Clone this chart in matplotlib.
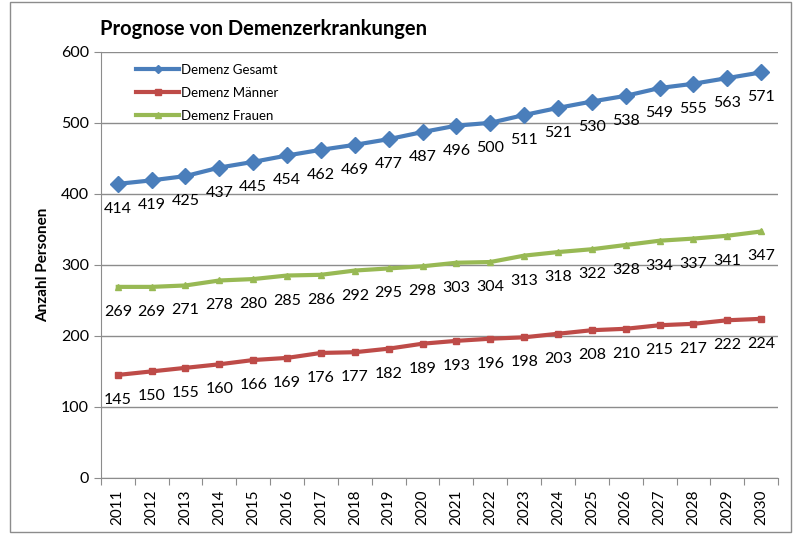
import numpy as np
import matplotlib.pyplot as plt
from matplotlib.patches import Rectangle

plt.rcParams['font.family'] = ['Lato', 'DejaVu Sans']

years = list(range(2011, 2031))
gesamt = [414, 419, 425, 437, 445, 454, 462, 469, 477, 487, 496, 500, 511, 521, 530, 538, 549, 555, 563, 571]
maenner = [145, 150, 155, 160, 166, 169, 176, 177, 182, 189, 193, 196, 198, 203, 208, 210, 215, 217, 222, 224]
frauen = [269, 269, 271, 278, 280, 285, 286, 292, 295, 298, 303, 304, 313, 318, 322, 328, 334, 337, 341, 347]

fig = plt.figure(figsize=(7.94, 5.34), dpi=100)
ax = fig.add_axes([0.127, 0.105, 0.853, 0.798])

# Rahmen um das ganze Diagramm
fig.patches.append(Rectangle((0.012, 0.004), 0.984, 0.992, transform=fig.transFigure,
                             fill=False, edgecolor='#8c8c8c', linewidth=1))

x = np.arange(1, len(years) + 1)
series = [(gesamt, '#4A7EBB', 'D', 8, 'Demenz Gesamt'),
          (maenner, '#BE4B48', 's', 5, 'Demenz Männer'),
          (frauen, '#98B954', '^', 5, 'Demenz Frauen')]

for vals, col, mk, ms, lab in series:
    ax.plot(x, vals, color=col, marker=mk, markersize=ms, linewidth=3, label=lab, zorder=3)
    for xi, v in zip(x, vals):
        ax.annotate(str(v), (xi, v), xytext=(0, -18), textcoords='offset points',
                    ha='center', va='center', fontsize=11.5, color='black')

ax.set_ylim(0, 600)
ax.set_yticks(range(0, 601, 100))
ax.set_xlim(0.5, len(years) + 0.5)
ax.set_xticks(np.arange(0.5, len(years) + 1, 1))
ax.set_xticklabels([])
ax.set_xticks(x, minor=True)
ax.set_xticklabels([str(y) for y in years], minor=True, rotation=90, fontsize=11)
ax.tick_params(axis='x', which='minor', length=0, pad=8)
ax.tick_params(axis='x', which='major', length=5, color='#8c8c8c', direction='out')
ax.tick_params(axis='y', length=5, color='#8c8c8c', labelsize=11.5, direction='out')

ax.grid(axis='y', color='#8c8c8c', linewidth=1)
ax.set_axisbelow(True)
for s in ['top', 'right']:
    ax.spines[s].set_visible(False)
for s in ['left', 'bottom']:
    ax.spines[s].set_color('#8c8c8c')

ax.set_ylabel('Anzahl Personen', fontsize=11, fontweight='bold', labelpad=8)
fig.text(0.126, 0.945, 'Prognose von Demenzerkrankungen', fontsize=14.5, fontweight='bold', va='center')

leg = ax.legend(loc='upper left', bbox_to_anchor=(0.035, 1.0), frameon=False, fontsize=9.5,
                handlelength=3.2, labelspacing=0.85, handletextpad=0.2)
for h in leg.legend_handles:
    h.set_markersize(4)

fig.savefig('out.png', dpi=100)
